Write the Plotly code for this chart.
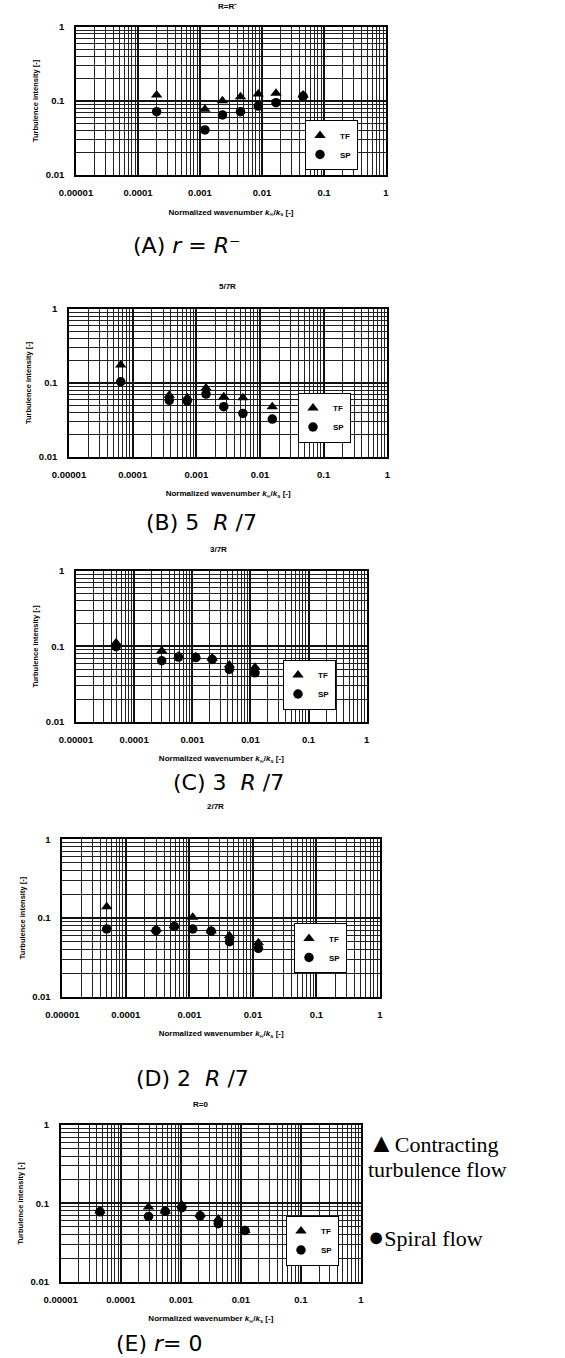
import plotly.graph_objects as go

W, H = 565, 1358

# ---------------- data ----------------
x_A = [2.0e-4, 1.2e-3, 2.3e-3, 4.5e-3, 8.7e-3, 1.68e-2, 4.6e-2]
tf_A = [0.120, 0.077, 0.100, 0.114, 0.124, 0.127, 0.120]
sp_A = [0.0715, 0.0405, 0.0646, 0.0715, 0.085, 0.0946, 0.115]

x_B = [6.5e-5, 3.76e-4, 7.2e-4, 1.42e-3, 2.7e-3, 5.4e-3, 1.56e-2]
tf_B = [0.174, 0.068, 0.063, 0.085, 0.065, 0.063, 0.0475]
sp_B = [0.1035, 0.058, 0.057, 0.0705, 0.0475, 0.0386, 0.0323]

x_C = [4.9e-5, 2.98e-4, 5.8e-4, 1.15e-3, 2.2e-3, 4.35e-3, 1.2e-2]
tf_C = [0.112, 0.0874, 0.074, 0.073, 0.070, 0.0565, 0.0526]
sp_C = [0.099, 0.0644, 0.072, 0.071, 0.067, 0.0494, 0.0446]

x_D = [5.0e-5, 2.99e-4, 5.8e-4, 1.13e-3, 2.2e-3, 4.27e-3, 1.22e-2]
tf_D = [0.139, 0.072, 0.080, 0.102, 0.069, 0.0596, 0.0485]
sp_D = [0.0725, 0.069, 0.078, 0.0725, 0.068, 0.050, 0.0412]

x_E = [4.5e-5, 2.9e-4, 5.5e-4, 1.04e-3, 2.1e-3, 4.2e-3, 1.17e-2]
tf_E = [0.080, 0.090, 0.080, 0.095, 0.072, 0.063, 0.045]
sp_E = [0.078, 0.068, 0.079, 0.088, 0.069, 0.055, 0.045]

series_names = ["TF", "SP"]
panel_titles = ["R=R⁻", "5/7R", "3/7R", "2/7R", "R=0"]
captions = ["(A) <i>r</i> = <i>R</i>⁻",
            "(B) 5\u00a0 <i>R</i> /7",
            "(C) 3\u00a0 <i>R</i> /7",
            "(D) 2\u00a0 <i>R</i> /7",
            "(E) <i>r</i>= 0"]

x_tick_vals = [1e-5, 1e-4, 1e-3, 1e-2, 1e-1, 1]
x_tick_text = ["0.00001", "0.0001", "0.001", "0.01", "0.1", "1"]
y_tick_vals = [0.01, 0.1, 1]
y_tick_text = ["0.01", "0.1", "1"]

x_title = "Normalized wavenumber <i>k</i><sub>∞</sub>/<i>k</i><sub>s</sub> [-]"
y_title = "Turbulence intensity [-]"

# ---------------- layout geometry (pixels in the reference) ----------------
# plot area: left, right, top, bottom
domains = [(76, 386, 26.7, 175),
           (69, 387.3, 309, 456.7),
           (76, 366.7, 571, 721.7),
           (62.3, 380, 839.3, 996.7),
           (60.7, 361, 1125, 1281.7)]
legend_pos = [(305, 145), (298, 417.5), (283, 684.5), (294, 948), (286, 1240.5)]  # left, vertical centre
title_pos = [(227, 7), (227, 286), (218, 549), (215, 806), (200, 1104)]
caption_pos = [(187, 245), (201, 522), (228, 783), (192, 1078), (159, 1343)]

data = [(x_A, tf_A, sp_A), (x_B, tf_B, sp_B), (x_C, tf_C, sp_C),
        (x_D, tf_D, sp_D), (x_E, tf_E, sp_E)]


def px(x):
    return x / W


def py(y):
    return 1 - y / H


def minor_vals(lo_exp, hi_exp):
    vals = []
    for e in range(lo_exp, hi_exp):
        for m in range(2, 10):
            vals.append(m * 10 ** e)
    return vals


fig = go.Figure()
layout = dict(width=W, height=H, margin=dict(l=0, r=0, t=0, b=0, autoexpand=False),
              paper_bgcolor="white", plot_bgcolor="white",
              font=dict(family="Liberation Sans, Arial, sans-serif", color="black"),
              annotations=[])

tick_font = dict(size=9.5, weight="bold", family="Liberation Sans, Arial, sans-serif")

for i, ((xs, tf, sp), dom) in enumerate(zip(data, domains)):
    n = "" if i == 0 else str(i + 1)
    leg = "legend" if i == 0 else "legend" + str(i + 1)
    xa, ya = "x" + n, "y" + n
    fig.add_trace(go.Scatter(x=xs, y=tf, mode="markers", name=series_names[0],
                             xaxis=xa, yaxis=ya, legend=leg,
                             marker=dict(symbol="triangle-up", size=10, color="black")))
    fig.add_trace(go.Scatter(x=xs, y=sp, mode="markers", name=series_names[1],
                             xaxis=xa, yaxis=ya, legend=leg,
                             marker=dict(symbol="circle", size=9.5, color="black")))
    l, r, t, b = dom
    layout["xaxis" + n] = dict(
        type="log", range=[-5, 0], domain=[px(l), px(r)], anchor=ya, automargin=False,
        tickmode="array", tickvals=x_tick_vals, ticktext=x_tick_text,
        tickfont=tick_font, ticks="outside", ticklen=8, tickcolor="rgba(0,0,0,0)",
        showgrid=True, gridcolor="#111", gridwidth=2.2,
        minor=dict(tickvals=minor_vals(-5, 0), showgrid=True, gridcolor="#222", gridwidth=1, ticks=""),
        showline=True, linecolor="black", linewidth=1.5, mirror=True, zeroline=False,
        title=dict(text=x_title, font=dict(size=8, weight="bold"), standoff=12))
    layout["yaxis" + n] = dict(
        type="log", range=[-2, 0], domain=[py(b), py(t)], anchor=xa, automargin=False,
        tickmode="array", tickvals=y_tick_vals, ticktext=y_tick_text,
        tickfont=tick_font, ticks="outside", ticklen=8, tickcolor="rgba(0,0,0,0)",
        showgrid=True, gridcolor="#111", gridwidth=2.2,
        minor=dict(tickvals=minor_vals(-2, 0), showgrid=True, gridcolor="#222", gridwidth=1, ticks=""),
        showline=True, linecolor="black", linewidth=1.5, mirror=True, zeroline=False,
        title=dict(text=y_title, font=dict(size=7.5, weight="bold"), standoff=6))
    lx, ly = legend_pos[i]
    layout[leg] = dict(x=px(lx), y=py(ly), xanchor="left", yanchor="middle",
                       bgcolor="white", bordercolor="black", borderwidth=1,
                       font=dict(size=8, weight="bold"), itemwidth=30,
                       indentation=-6, tracegroupgap=0)
    tx, ty = title_pos[i]
    layout["annotations"].append(dict(text=panel_titles[i], x=px(tx), y=py(ty),
                                      xref="paper", yref="paper", showarrow=False,
                                      xanchor="center", yanchor="middle",
                                      font=dict(size=8, weight="bold")))
    cx, cy = caption_pos[i]
    layout["annotations"].append(dict(text=captions[i], x=px(cx), y=py(cy),
                                      xref="paper", yref="paper", showarrow=False,
                                      xanchor="center", yanchor="middle",
                                      font=dict(size=22, family="DejaVu Sans, Verdana, sans-serif")))

side_notes = ["<span style='font-size:27px'>▲</span>Contracting", "turbulence flow",
              "<span style='font-size:27px'>●</span>Spiral flow"]
side_pos = [(366, 1143), (366, 1169), (366, 1237)]
for txt, (sx, sy) in zip(side_notes, side_pos):
    layout["annotations"].append(dict(text=txt, x=px(sx), y=py(sy), xref="paper", yref="paper",
                                      xanchor="left", yanchor="middle", showarrow=False,
                                      font=dict(size=22, family="Liberation Serif, Times New Roman, serif")))

fig.update_layout(**layout)
fig.write_html("out.html", config={"displayModeBar": False},
               post_script="document.body.style.margin='0px';")
